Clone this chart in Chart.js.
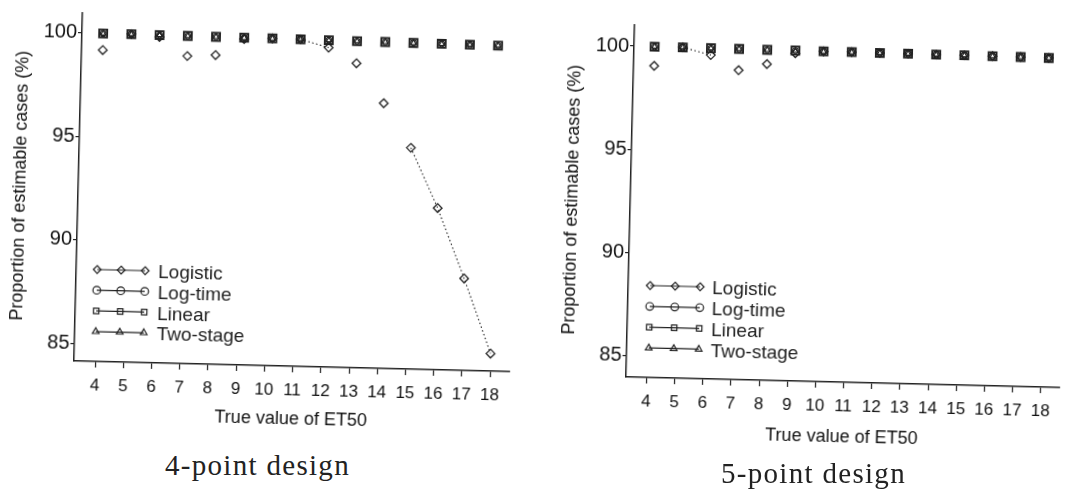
<!DOCTYPE html>
<html>
<head>
<meta charset="utf-8">
<script src="https://cdn.jsdelivr.net/npm/chart.js@4.4.0/dist/chart.umd.min.js"></script>
<style>
  body { margin: 0; background: #fff; width: 1067px; height: 501px; overflow: hidden; position: relative; }
  canvas { position: absolute; top: 0; }
  #chart4 { left: 0; transform-origin: 74px 361px; transform: rotate(1.4deg); }
  #chart5 { left: 540px; transform-origin: 86px 377px; transform: rotate(1.4deg); }
  .caption { position: absolute; font-family: "Liberation Serif", serif; font-size: 29px; line-height: 29px; letter-spacing: 1.3px; color: #222; white-space: nowrap; }
</style>
</head>
<body>
<canvas id="chart4" width="530" height="430"></canvas>
<canvas id="chart5" width="527" height="450"></canvas>
<div class="caption" style="left:165px; top:451px;">4-point design</div>
<div class="caption" style="left:721px; top:459px;">5-point design</div>

<script>
// True value of ET50 (x categories)
const et50 = [4, 5, 6, 7, 8, 9, 10, 11, 12, 13, 14, 15, 16, 17, 18];
const seriesNames = ['Logistic', 'Log-time', 'Linear', 'Two-stage'];
const yTicks = [85, 90, 95, 100];

// 4-point design, proportion of estimable cases (%)
const logistic4 = [99.20, 100, 99.90, 99.01, 99.09, 99.90, 99.96, 99.95, 99.58, 98.86, 96.96, 94.84, 91.96, 88.59, 84.99];
const logtime4  = [100, 100, 99.99, 99.98, 99.97, 99.96, 99.96, 99.95, 99.94, 99.93, 99.92, 99.91, 99.90, 99.89, 99.88];
const linear4   = [100, 100, 99.99, 99.98, 99.97, 99.96, 99.96, 99.95, 99.94, 99.93, 99.92, 99.91, 99.90, 99.89, 99.88];
const twostage4 = [100, 100, 99.99, 99.98, 99.97, 99.96, 99.96, 99.95, 99.94, 99.93, 99.92, 99.91, 99.90, 99.89, 99.88];

// 5-point design
const logistic5 = [99.07, 100, 99.66, 98.96, 99.29, 99.85, 99.97, 99.97, 99.96, 99.96, 99.95, 99.95, 99.94, 99.93, 99.92];
const logtime5  = [100, 100, 99.99, 99.99, 99.98, 99.98, 99.97, 99.97, 99.96, 99.96, 99.95, 99.95, 99.94, 99.93, 99.92];
const linear5   = [100, 100, 99.99, 99.99, 99.98, 99.98, 99.97, 99.97, 99.96, 99.96, 99.95, 99.95, 99.94, 99.93, 99.92];
const twostage5 = [100, 100, 99.99, 99.99, 99.98, 99.98, 99.97, 99.97, 99.96, 99.96, 99.95, 99.95, 99.94, 99.93, 99.92];

// only a few connecting segments of the logistic curve survive in the scan
const visibleSegs4 = [7, 11, 12, 13];
const visibleSegs5 = [1];

const ink = '#222';
const sans = '"Liberation Sans", Arial, sans-serif';

// legend drawn as line + three markers, like the original figure
const seriesLegend = {
  id: 'seriesLegend',
  afterDatasetsDraw(chart, args, opts) {
    const ctx = chart.ctx;
    ctx.save();
    chart.data.datasets.forEach((ds, i) => {
      const y = opts.y + i * opts.rowH;
      ctx.setLineDash([]);
      ctx.strokeStyle = ink;
      ctx.lineWidth = 1.2;
      ctx.beginPath();
      ctx.moveTo(opts.x, y - 2);
      ctx.lineTo(opts.x + opts.len, y - 2);
      ctx.stroke();
      ctx.fillStyle = 'rgba(0,0,0,0)';
      [0, 0.5, 1].forEach(f => {
        Chart.helpers.drawPoint(ctx, { pointStyle: ds.pointStyle, radius: 3.8, borderWidth: 1.2, rotation: 0 },
          opts.x + f * opts.len, y - 2);
      });
      ctx.fillStyle = ink;
      ctx.font = '19px ' + sans;
      ctx.textBaseline = 'middle';
      ctx.textAlign = 'left';
      ctx.fillText(ds.label, opts.textX, y);
    });
    ctx.restore();
  }
};

function toPoints(values) {
  return et50.map((x, i) => ({ x: x, y: values[i] }));
}

function makeChart(id, series, visibleSegs, s) {
  const styles = ['rectRot', 'circle', 'rect', 'triangle'];
  const radii = [4.3, 2.8, 5.6, 3.0];
  const widths = [1.3, 1.1, 1.9, 1.1];
  const datasets = series.map((values, i) => ({
    label: seriesNames[i],
    data: toPoints(values),
    pointStyle: styles[i],
    pointRadius: radii[i],
    pointBorderWidth: widths[i],
    pointBorderColor: ink,
    pointBackgroundColor: 'rgba(0,0,0,0)',
    borderColor: ink,
    borderWidth: 1.1,
    borderDash: [1.5, 2.5],
    showLine: i === 0,
    segment: i === 0 ? {
      borderColor: c => visibleSegs.includes(c.p0DataIndex) ? ink : 'rgba(0,0,0,0)'
    } : undefined,
    fill: false
  }));

  new Chart(document.getElementById(id), {
    type: 'line',
    data: { datasets: datasets },
    options: {
      responsive: false,
      animation: false,
      layout: { padding: { left: 0, top: s.padTop, right: s.padRight, bottom: 0 } },
      plugins: {
        legend: { display: false },
        tooltip: { enabled: false },
        seriesLegend: s.legend
      },
      scales: {
        x: {
          type: 'linear',
          min: s.xMin,
          max: s.xMax,
          afterBuildTicks: scale => { scale.ticks = et50.map(v => ({ value: v })); },
          afterFit: scale => { scale.height = s.xHeight; },
          grid: { drawOnChartArea: false, drawTicks: true, tickLength: 6, color: ink, lineWidth: 1.2 },
          border: { display: true, color: ink, width: 1.5 },
          ticks: { color: '#111', font: { family: sans, size: 17 }, padding: 8, maxRotation: 0, autoSkip: false },
          title: { display: true, text: 'True value of ET50', color: '#111', font: { family: sans, size: 18 }, padding: { top: 0, bottom: s.xTitlePad } }
        },
        y: {
          min: s.yMin,
          max: s.yMax,
          afterBuildTicks: scale => { scale.ticks = yTicks.map(v => ({ value: v })); },
          afterFit: scale => { scale.width = s.yWidth; },
          grid: { drawOnChartArea: false, drawTicks: true, tickLength: 4, color: ink, lineWidth: 1.2 },
          border: { display: true, color: ink, width: 1.5 },
          ticks: { color: '#111', font: { family: sans, size: 20 }, padding: 1 },
          title: { display: true, text: 'Proportion of estimable cases (%)', color: '#111', font: { family: sans, size: 18 }, padding: { top: s.yTitlePad, bottom: 0 } }
        }
      }
    },
    plugins: [seriesLegend]
  });
}

makeChart('chart4', [logistic4, logtime4, linear4, twostage4], visibleSegs4, {
  xMin: 3.25, xMax: 18.7, yMin: 84.14, yMax: 100.96,
  padTop: 10, padRight: 20, yWidth: 74, xHeight: 69,
  xTitlePad: 5, yTitlePad: 5,
  legend: { x: 95, len: 48, textX: 156, y: 271, rowH: 20.7 }
});

makeChart('chart5', [logistic5, logtime5, linear5, twostage5], visibleSegs5, {
  xMin: 3.27, xMax: 18.66, yMin: 83.98, yMax: 101.02,
  padTop: 25, padRight: 1, yWidth: 86, xHeight: 73,
  xTitlePad: 7, yTitlePad: 17,
  legend: { x: 108, len: 50, textX: 170, y: 287, rowH: 20.8 }
});
</script>
</body>
</html>
